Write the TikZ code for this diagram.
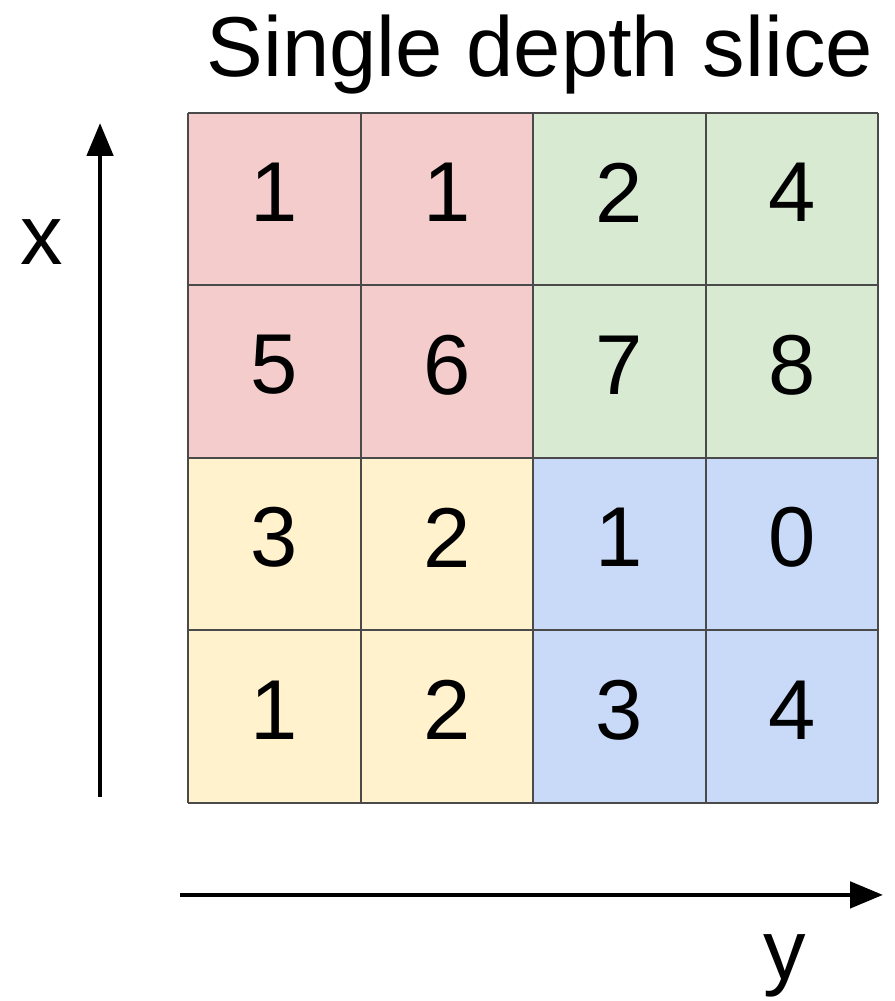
\documentclass[tikz,border=0pt]{standalone}
\usepackage{fontspec}
\setmainfont{Liberation Sans}
\usetikzlibrary{arrows.meta}
\definecolor{slicered}{HTML}{F4CCCC}
\definecolor{slicegreen}{HTML}{D9EAD3}
\definecolor{sliceyellow}{HTML}{FFF2CC}
\definecolor{sliceblue}{HTML}{C9DAF8}
\definecolor{gridgray}{HTML}{4A4A4A}
\tikzset{
  bigtext/.style={font=\fontsize{42.5}{50}\selectfont, inner sep=0pt},
  cell/.style={bigtext},
  axis/.style={->, line width=2.4pt}
}
\begin{document}
\begin{tikzpicture}[>={Triangle[length=16.5pt,width=13pt]}, x=86.25pt, y=86.25pt]
\useasboundingbox (-1.090,-1.148) rectangle (4.093,4.655);
% four quarters of the slice
\fill[slicered] (0,2) rectangle (2,4);
\fill[slicegreen] (2,2) rectangle (4,4);
\fill[sliceyellow] (0,0) rectangle (2,2);
\fill[sliceblue] (2,0) rectangle (4,2);
\draw[gridgray, line width=1pt, step=1] (0,0) grid (4,4);
% values, top row first
\foreach \row/\vals in {0/{1,1,2,4},1/{5,6,7,8},2/{3,2,1,0},3/{1,2,3,4}} {
  \foreach \v [count=\col] in \vals
    \node[cell] (c-\row-\col) at (\col-0.5, 3.54-\row) {\v};
}
\node[bigtext, anchor=base] (title) at (2.04,4.209) {Single depth slice};
% axes
\coordinate (xfrom) at (-0.510,0.035);
\coordinate (xto) at (-0.510,3.942);
\coordinate (yfrom) at (-0.046,-0.533);
\coordinate (yto) at (4.029,-0.533);
\draw[axis] (xfrom)--(xto);
\draw[axis] (yfrom)--(yto);
\node[bigtext] (xlabel) at (-0.846,3.252) {x};
\node[bigtext, anchor=base] (ylabel) at (3.461,-1.026) {y};
\end{tikzpicture}
\end{document}
